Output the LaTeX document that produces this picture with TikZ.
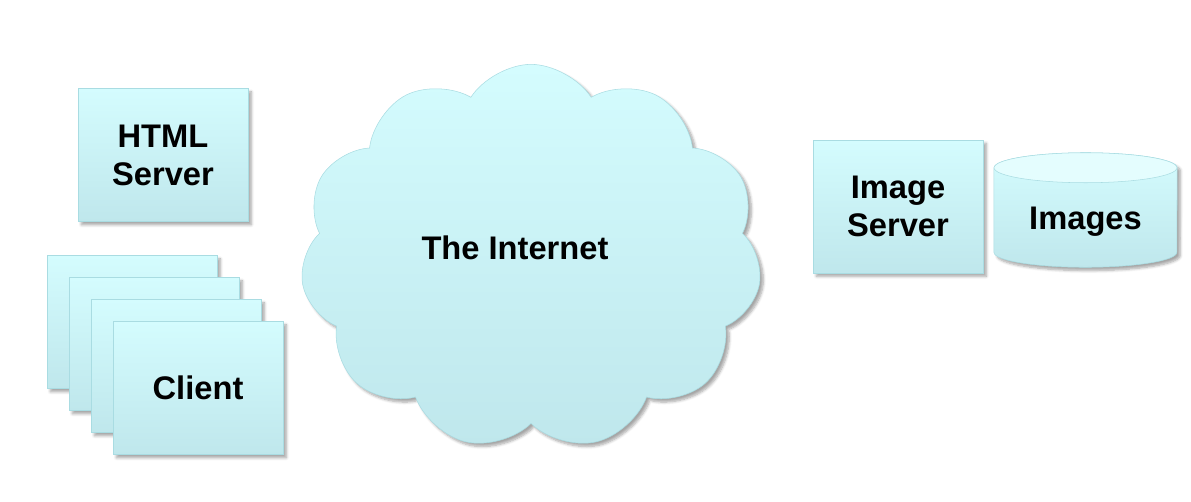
\documentclass[tikz,border=0pt]{standalone}
\usepackage{fontspec}
\setmainfont{Liberation Sans}
\usetikzlibrary{positioning,backgrounds,shapes.symbols,shadows.blur}
\definecolor{boxtop}{HTML}{D4FCFE}
\definecolor{boxbot}{HTML}{BFE7EC}
\definecolor{boxline}{HTML}{A9DCE2}
\definecolor{canend}{HTML}{E4FDFE}

\begin{document}
\begin{tikzpicture}[x=0.75pt,y=-0.75pt,node distance=16.5pt and 16.5pt,on grid,
		txt/.style={font=\fontsize{24.5}{28.5}\selectfont\bfseries,align=center},
		shad/.style={blur shadow={shadow xshift=2.5pt,shadow yshift=-2.5pt,shadow blur steps=6,shadow blur radius=2pt,shadow opacity=35}},
		fillup/.style={draw=boxline,top color=boxtop,bottom color=boxbot,shad},
		box/.style={rectangle,fillup,txt,minimum width=127.5pt,minimum height=99.75pt,inner sep=0pt},
		lid/.style={x radius=68.6pt,y radius=11.25pt}]
			\useasboundingbox (0,0) rectangle (1191,501);
			\node[box] (html) at (163,155) {HTML\\Server};
			\node[box] (c1) at (132,322) {};
			\node[box] (c2) [below right=of c1] {};
			\node[box] (c3) [below right=of c2] {};
			\node[box] (client) [below right=of c3] {Client};
			\node[cloud,cloud puffs=11,cloud puff arc=115,aspect=1.2,fillup,minimum width=346pt,minimum height=289pt,inner sep=0pt,
				label={[txt,shift={(-12pt,6.75pt)}]center:The Internet}] (internet) at (531,257) {};
			\node[box] (imgsrv) at (898,206.5) {Image\\Server};
			\node[minimum width=137pt,minimum height=63pt,inner sep=0pt,label={[txt,yshift=-9pt]center:Images}] (images) at (1085.5,210) {};
			% the can behind its text
			\begin{scope}[on background layer]
				\path[fillup] (images.north west) -- (images.south west) arc[start angle=180,end angle=360,lid]
					-- (images.north east) arc[start angle=0,end angle=180,lid] -- cycle;
				\draw[boxline,fill=canend] (images.north) ellipse[lid];
			\end{scope}
		\end{tikzpicture}
\end{document}
